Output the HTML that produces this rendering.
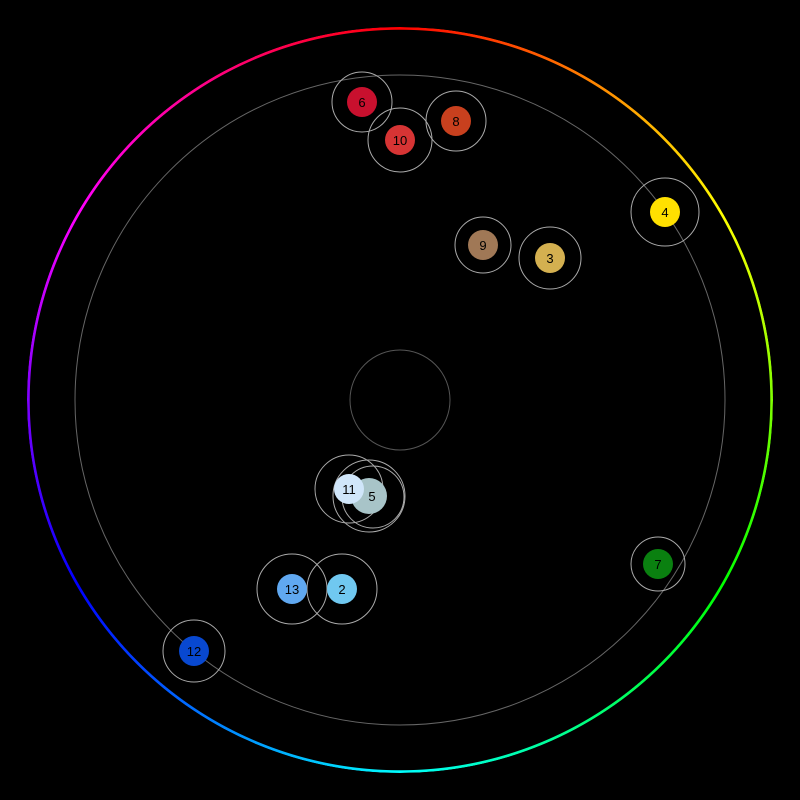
<!DOCTYPE html>
<html><head><style>
html,body{margin:0;background:#000;}
.ring{position:absolute;left:27px;top:27px;width:746px;height:746px;border-radius:50%;
background:conic-gradient(from 0deg,#f00,#ff0,#0f0,#0ff,#00f,#f0f,#f00);
-webkit-mask:radial-gradient(circle,transparent 370px,#000 370.5px,#000 373px,transparent 373.5px);
mask:radial-gradient(circle,transparent 370px,#000 370.5px,#000 373px,transparent 373.5px);}
</style></head><body>
<div style="position:relative;width:800px;height:800px;overflow:hidden;">
<div class="ring"></div>
<svg width="800" height="800" style="position:absolute;left:0;top:0" font-family="Liberation Sans, sans-serif" font-size="13" text-anchor="middle">
<circle cx="400" cy="400" r="325" fill="none" stroke="#666" stroke-width="1"/>
<circle cx="400" cy="400" r="50" fill="none" stroke="#555" stroke-width="1"/>
<g fill="none" stroke="#aaa" stroke-width="1">
<circle cx="362" cy="102" r="30"/><circle cx="400" cy="140" r="32"/><circle cx="456" cy="121" r="30"/>
<circle cx="665" cy="212" r="34"/><circle cx="483" cy="245" r="28"/><circle cx="550" cy="258" r="31"/>
<circle cx="349" cy="489" r="34"/><circle cx="369" cy="496" r="36"/><circle cx="373" cy="497" r="31"/>
<circle cx="658" cy="564" r="27"/><circle cx="292" cy="589" r="35"/><circle cx="342" cy="589" r="35"/>
<circle cx="194" cy="651" r="31"/>
</g>
<circle cx="362" cy="102" r="15" fill="#c8102e"/>
<circle cx="400" cy="140" r="15" fill="#d63434"/>
<circle cx="456" cy="121" r="15" fill="#c8401e"/>
<circle cx="665" cy="212" r="15" fill="#ffe000"/>
<circle cx="483" cy="245" r="15" fill="#a07856"/>
<circle cx="550" cy="258" r="15" fill="#d4b050"/>
<circle cx="369" cy="496" r="18" fill="#a8c4c8"/>
<circle cx="349" cy="489" r="15" fill="#d0e6fa"/>
<circle cx="658" cy="564" r="15" fill="#0a8010"/>
<circle cx="292" cy="589" r="15" fill="#60a8f0"/>
<circle cx="342" cy="589" r="15" fill="#70c8f0"/>
<circle cx="194" cy="651" r="15" fill="#0848d0"/>
<g fill="#000">
<text x="362" y="107">6</text><text x="400" y="145">10</text><text x="456" y="126">8</text>
<text x="665" y="217">4</text><text x="483" y="250">9</text><text x="550" y="263">3</text>
<text x="372" y="501">5</text><text x="349" y="494">11</text><text x="658" y="569">7</text>
<text x="292" y="594">13</text><text x="342" y="594">2</text><text x="194" y="656">12</text>
</g>
</svg>
</div>
</body></html>
